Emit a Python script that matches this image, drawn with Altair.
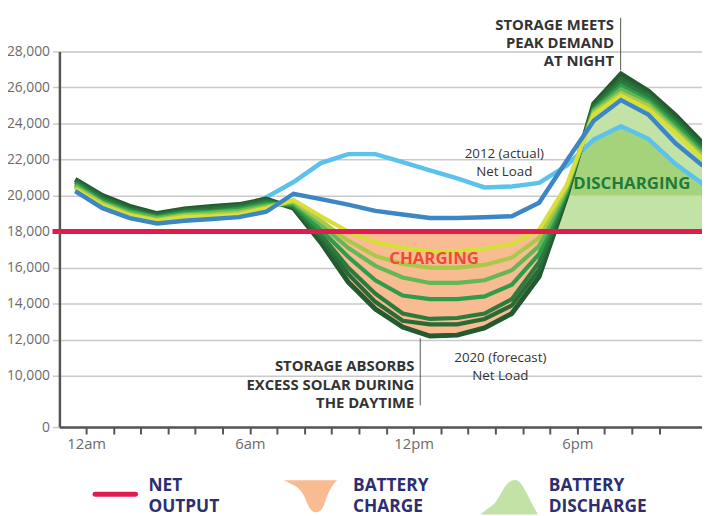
import json
import altair as alt
import numpy as np
import pandas as pd

# ---------------- data (MW, hour of day) ----------------
HOURS = list(range(24))
LOAD_2012 = [20550, 19600, 19050, 18800, 19000, 19100, 19200, 19900, 20750, 21800, 22300, 22300,
             21850, 21400, 20950, 20450, 20500, 20700, 21650, 23100, 23850, 23150, 21750, 20650]
LOAD_2013 = [20250, 19300, 18750, 18450, 18600, 18700, 18800, 19100, 20100, 19800, 19500, 19150,
             18950, 18750, 18750, 18800, 18850, 19600, 21900, 24150, 25300, 24500, 22900, 21650]
LOAD_2014 = [20350, 19450, 18900, 18600, 18800, 18850, 18950, 19300, 19750, 18850, 18000, 17400,
             17100, 16900, 16900, 17050, 17300, 18100, 20550, 24500, 25550, 24800, 23450, 22000]
LOAD_2015 = [20450, 19550, 18950, 18650, 18900, 18950, 19050, 19350, 19700, 18600, 17500, 16650,
             16200, 16000, 16000, 16150, 16550, 17650, 20450, 24600, 25700, 25000, 23600, 22150]
LOAD_2016 = [20550, 19600, 19050, 18750, 18950, 19050, 19150, 19450, 19600, 18400, 17100, 16100,
             15450, 15150, 15150, 15300, 15850, 17200, 20300, 24700, 25900, 25150, 23750, 22300]
LOAD_2017 = [20650, 19700, 19150, 18800, 19050, 19100, 19250, 19550, 19500, 18100, 16600, 15300,
             14450, 14250, 14250, 14400, 15050, 16750, 20200, 24800, 26100, 25300, 23950, 22450]
LOAD_2018 = [20750, 19800, 19200, 18850, 19100, 19200, 19350, 19650, 19450, 17850, 16000, 14550,
             13450, 13150, 13200, 13450, 14250, 16300, 20100, 24850, 26300, 25500, 24100, 22550]
LOAD_2019 = [20850, 19900, 19300, 18950, 19200, 19300, 19450, 19750, 19350, 17650, 15650, 14100,
             13050, 12850, 12850, 13150, 13900, 15900, 20000, 25000, 26500, 25650, 24250, 22750]
LOAD_2020 = [20900, 20000, 19400, 19000, 19250, 19400, 19500, 19800, 19300, 17400, 15200, 13700,
             12700, 12200, 12250, 12650, 13450, 15500, 19900, 25100, 26750, 25800, 24450, 22900]
NET_OUTPUT = 18000
DISCHARGE_BASE = 20000

Y_TICKS = [0, 10000, 12000, 14000, 16000, 18000, 20000, 22000, 24000, 26000, 28000]
X_TICKS = [round(k + 0.4, 1) for k in range(22)]
X_TICK_LABELS = ["12am", "", "", "", "", "", "6am", "", "", "", "", "",
                 "12pm", "", "", "", "", "", "6pm", "", "", ""]

# ---------------- styles ----------------
W, H = 650, 380
C_LB, C_DB = "#5bc2ec", "#3c86c6"
GREENS = [("2014", LOAD_2014, "#d7df3b", 4.2), ("2015", LOAD_2015, "#a9c94b", 4.2),
          ("2016", LOAD_2016, "#63b855", 4.2), ("2017", LOAD_2017, "#2f9c4c", 4.2),
          ("2018", LOAD_2018, "#2b7b3c", 4.2), ("2019", LOAD_2019, "#2a6a37", 4.2),
          ("2020", LOAD_2020, "#245a30", 5.0)]
PEACH, LGREEN, DGREEN, RED = "#f9bb92", "#c3e3a6", "#a5d37b", "#e31b4c"
NAVY, TXT, FONT = "#2d2e6f", "#333333", "Open Sans"

XS = alt.Scale(domain=[-0.58, 22.97], nice=False, zero=False)
YS = alt.Scale(domain=[0, 10000, 28000], range=[H, H - 52, 0], nice=False, zero=False)
XAX = alt.Axis(values=X_TICKS, labelExpr=json.dumps(X_TICK_LABELS) + "[round(datum.value - 0.4)]",
               grid=False, domainColor="#555555", domainWidth=2.5, tickColor="#555555",
               tickWidth=2, tickSize=7, labelFont=FONT, labelFontSize=15, labelColor="#6b6b6b",
               labelPadding=3, labelOverlap=False, title=None)
YAX = alt.Axis(values=Y_TICKS, labelExpr="format(datum.value, ',')", grid=True,
               gridColor="#cacaca", gridWidth=1.5,
               tickColor="#cacaca", tickWidth=1.5, tickSize=7, domainColor="#555555",
               domainWidth=2.5, labelFont=FONT, labelFontSize=14, labelColor="#6b6b6b",
               labelPadding=3, labelOverlap=False, title=None)

def X():
    return alt.X("t:Q", scale=XS, axis=XAX)

def Y(field="v"):
    return alt.Y(f"{field}:Q", scale=YS, axis=YAX)

# ---------------- fill geometry (crossing points of the piecewise-linear curves) ----------------
h = np.array(HOURS, float)
dg = np.array(LOAD_2020, float)
lb = np.array(LOAD_2012, float)

def crossings(a, b):
    d = a - b
    out = []
    for i in range(len(h) - 1):
        if d[i] * d[i + 1] < 0:
            out.append(h[i] + d[i] / (d[i] - d[i + 1]))
    return out

bp = sorted(set(list(h) + crossings(dg, np.full_like(dg, NET_OUTPUT))
                + crossings(dg, np.full_like(dg, DISCHARGE_BASE))
                + crossings(lb, np.full_like(lb, DISCHARGE_BASE)) + crossings(lb, dg)))
bp = np.array(bp)
dg_bp = np.interp(bp, h, dg)
lb_bp = np.interp(bp, h, lb)

m = (bp >= 8) & (bp <= 18)
charge_df = pd.DataFrame({"t": bp[m], "v": NET_OUTPUT, "v2": np.minimum(dg_bp[m], NET_OUTPUT)})
m = bp >= 17
dis_df = pd.DataFrame({"t": bp[m], "v": NET_OUTPUT, "v2": np.maximum(dg_bp[m], NET_OUTPUT)})
dis2_df = pd.DataFrame({"t": bp[m], "v": DISCHARGE_BASE,
                        "v2": np.maximum(np.minimum(lb_bp[m], dg_bp[m]), DISCHARGE_BASE)})

layers = []
for df, col in [(charge_df, PEACH), (dis_df, LGREEN), (dis2_df, DGREEN)]:
    layers.append(alt.Chart(df).mark_area(color=col, opacity=1, clip=True)
                  .encode(x=X(), y=Y(), y2="v2:Q"))

def line(vals, col, w):
    df = pd.DataFrame({"t": HOURS, "v": vals})
    return alt.Chart(df).mark_line(color=col, strokeWidth=w, clip=True,
                                   strokeJoin="miter").encode(x=X(), y=Y())

layers.append(line(LOAD_2012, C_LB, 4.5))
for name, vals, col, w in reversed(GREENS):
    layers.append(line(vals, col, w))
layers.append(line(LOAD_2013, C_DB, 4.5))

one = pd.DataFrame({"k": [0]})
layers.append(alt.Chart(one).mark_rule(color=RED, strokeWidth=5)
              .encode(y=alt.Y(datum=NET_OUTPUT, scale=YS, axis=YAX),
                      x=alt.value(-7), x2=alt.value(W)))

def txt(lines, x, y, align="left", size=15, weight="bold", color=TXT, lh=18.5):
    return alt.Chart(one).mark_text(align=align, baseline="alphabetic", font=FONT,
                                    fontSize=size, fontWeight=weight, color=color,
                                    lineHeight=lh).encode(
        x=alt.value(x), y=alt.value(y), text=alt.value(lines))

def vrule(x, y1, y2):
    return alt.Chart(one).mark_rule(color="#555555", strokeWidth=1).encode(
        x=alt.value(x), y=alt.value(y1), y2=alt.value(y2))

layers += [
    txt(["STORAGE MEETS", "PEAK DEMAND", "AT NIGHT"], 561, -22, align="right"),
    vrule(567.7, -34, 19),
    txt(["STORAGE ABSORBS", "EXCESS SOLAR DURING", "THE DAYTIME"], 359, 323.5, align="right"),
    vrule(365, 290, 358),
    txt(["2012 (actual)", "Net Load"], 450, 108, align="center", size=13.5, weight="normal", lh=18),
    txt(["2020 (forecast)", "Net Load"], 446, 314, align="center", size=13.5, weight="normal", lh=18.5),
    txt(["CHARGING"], 379, 215, align="center", size=17, color="#ef4a34"),
    txt(["DISCHARGING"], 579, 139, align="center", size=17, color="#1e7b3c"),
]

# ---------------- legend ----------------
VALLEY = ("M -1,-0.6 L 1,-0.6 C 0.8,-0.45 0.65,-0.1 0.55,0.2 C 0.45,0.5 0.35,0.6 0.2,0.6 "
          "C 0.05,0.6 -0.05,0.45 -0.15,0.2 C -0.25,-0.05 -0.35,-0.25 -0.6,-0.4 "
          "C -0.8,-0.5 -0.9,-0.55 -1,-0.6 Z")
HILL = ("M -1,0.6 C -0.85,0.45 -0.65,0.35 -0.5,0.2 C -0.3,0 -0.15,-0.6 0.2,-0.6 "
        "C 0.45,-0.6 0.6,-0.1 1,0.6 Z")
layers += [
    alt.Chart(one).mark_rule(color=RED, strokeWidth=5, strokeCap="round").encode(
        x=alt.value(36), x2=alt.value(77), y=alt.value(448)),
    txt(["NET", "OUTPUT"], 90, 445, size=17.5, color=NAVY, lh=21),
    alt.Chart(one).mark_point(shape=VALLEY, filled=True, size=2916, color=PEACH, opacity=1,
                              strokeWidth=0).encode(x=alt.value(254), y=alt.value(450)),
    txt(["BATTERY", "CHARGE"], 297, 445, size=17.5, color=NAVY, lh=21),
    alt.Chart(one).mark_point(shape=HILL, filled=True, size=3400, color=LGREEN, opacity=1,
                              strokeWidth=0).encode(x=alt.value(455), y=alt.value(451)),
    txt(["BATTERY", "DISCHARGE"], 495, 445, size=17.5, color=NAVY, lh=21),
]

chart = alt.layer(*layers).properties(
    width=W, height=H,
    autosize=alt.AutoSizeParams(type="none"),
    padding={"left": 52, "top": 41, "right": 0, "bottom": 87},
).configure_view(stroke=None).configure(background="white")

chart.save("out.html", embed_options={"renderer": "svg", "actions": False})
